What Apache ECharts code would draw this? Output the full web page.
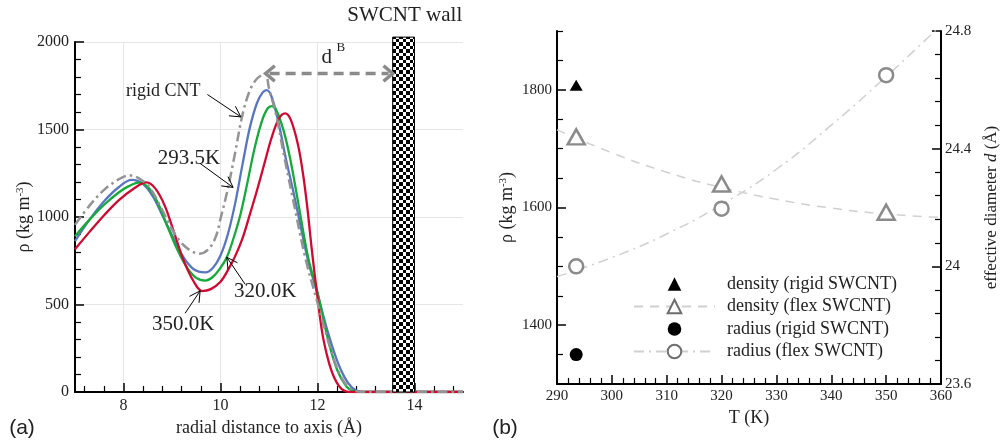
<!DOCTYPE html>
<html>
<head>
<meta charset="utf-8">
<script src="https://cdn.jsdelivr.net/npm/echarts@6/dist/echarts.min.js"></script>
<style>
  html, body { margin: 0; padding: 0; background: #fff; }
  #chart { width: 1001px; height: 442px; }
</style>
</head>
<body>
<div id="chart"></div>
<script>
// ---------- panel (a): density profile vs radial distance ----------
// [r (Å), rho (kg m^-3)]
const rigidCNT = [[7.0, 955], [7.3, 1065], [7.6, 1155], [7.9, 1215], [8.12, 1238], [8.35, 1215], [8.55, 1165],
  [8.8, 1040], [9.0, 930], [9.2, 850], [9.4, 805], [9.57, 790], [9.75, 815], [9.9, 885], [10.0, 990],
  [10.15, 1160], [10.3, 1365], [10.45, 1580], [10.6, 1720], [10.75, 1790], [10.92, 1818], [11.0, 1735],
  [11.15, 1580], [11.3, 1365], [11.5, 1094], [11.75, 765], [12.0, 510], [12.2, 310], [12.4, 140],
  [12.6, 38], [12.8, 4], [13.0, 0], [15.0, 0]];
const rho293 = [[7.0, 862], [7.3, 985], [7.6, 1090], [7.9, 1170], [8.17, 1212], [8.4, 1190], [8.6, 1120],
  [8.8, 1010], [9.0, 895], [9.2, 785], [9.4, 712], [9.55, 688], [9.69, 684], [9.85, 712], [10.0, 780],
  [10.15, 900], [10.3, 1075], [10.45, 1295], [10.6, 1505], [10.75, 1650], [10.87, 1712], [10.95, 1725],
  [11.05, 1690], [11.2, 1535], [11.35, 1330], [11.5, 1147], [11.65, 950], [11.81, 746], [12.0, 560],
  [12.2, 355], [12.4, 182], [12.55, 88], [12.7, 28], [12.85, 4], [13.0, 0], [15.0, 0]];
const rho320 = [[7.0, 890], [7.3, 985], [7.6, 1070], [7.9, 1140], [8.1, 1175], [8.31, 1197], [8.5, 1172],
  [8.7, 1085], [8.9, 950], [9.1, 820], [9.3, 715], [9.5, 652], [9.69, 637], [9.85, 660], [10.0, 710],
  [10.13, 770], [10.27, 880], [10.41, 1013], [10.55, 1190], [10.7, 1390], [10.85, 1545], [10.97, 1620],
  [11.06, 1634], [11.15, 1612], [11.3, 1495], [11.44, 1328], [11.6, 1085], [11.81, 765], [12.0, 570],
  [12.2, 320], [12.4, 130], [12.6, 30], [12.75, 4], [12.9, 0], [15.0, 0]];
const rho350 = [[7.0, 816], [7.3, 915], [7.6, 1010], [7.9, 1095], [8.2, 1160], [8.47, 1198], [8.65, 1165],
  [8.85, 1065], [9.05, 905], [9.25, 745], [9.45, 630], [9.62, 577], [9.8, 588], [10.0, 630], [10.15, 695],
  [10.3, 775], [10.45, 875], [10.6, 1010], [10.75, 1150], [10.9, 1300], [11.05, 1450], [11.2, 1560],
  [11.33, 1592], [11.45, 1555], [11.6, 1410], [11.71, 1230], [11.8, 1030], [11.88, 820], [12.0, 540],
  [12.1, 335], [12.2, 205], [12.3, 112], [12.4, 52], [12.5, 16], [12.6, 2], [12.7, 0], [15.0, 0]];
const wallRange = [13.55, 14.0];          // SWCNT wall, Å
const majorTicksR = [8, 10, 12, 14];
const minorTicksR = [7.2, 7.6, 8.4, 8.8, 9.2, 9.6, 10.4, 10.8, 11.2, 11.6, 12.4, 12.8, 13.2, 13.6, 14.4, 14.8];

// ---------- panel (b): density / diameter vs temperature ----------
const tempK = [293.5, 320, 350];
const densRigid = [1808];                 // at 293.5 K
const densFlex = [1720, 1640, 1592];
const diamRigid = [23.70];                // at 293.5 K
const diamFlex = [24.0, 24.196, 24.65];
const fitT = [290, 300, 310, 320, 330, 340, 350, 360];
const densFit = [1732, 1693, 1660, 1634, 1614, 1599, 1589, 1583];
const diamFit = [23.965, 24.03, 24.11, 24.21, 24.33, 24.48, 24.645, 24.82];
const majorTicksRho = [1400, 1600, 1800];
const minorTicksRho = [1350, 1450, 1500, 1550, 1650, 1700, 1750, 1850, 1900];

const SERIF = 'Liberation Serif';
const INK = '#222';
const pair = (xs, ys) => xs.map((x, i) => [x, ys[i]]);

// checkerboard tile for the wall
const tile = document.createElement('canvas');
tile.width = tile.height = 7;
const tg = tile.getContext('2d');
tg.fillStyle = '#fff'; tg.fillRect(0, 0, 7, 7);
tg.fillStyle = '#000'; tg.fillRect(0, 0, 4, 4); tg.fillRect(4, 4, 3, 3);

const axisLine = { onZero: false, lineStyle: { color: '#000', width: 2 } };
const tickMajor = { inside: true, length: 9, lineStyle: { color: '#000', width: 1.5 } };
const tickMinor = { inside: true, length: 6, lineStyle: { color: '#000', width: 1.2 } };
// tick labels forced to the serif face through a rich style, no thousands separator
const lbl = (size, margin) => ({
  margin: margin, fontFamily: SERIF, fontSize: size, color: INK,
  formatter: (v) => '{n|' + (Math.round(v * 100) / 100) + '}',
  rich: { n: { fontFamily: SERIF, fontSize: size, color: INK } }
});
const nameStyle = (size) => ({
  fontFamily: SERIF, fontSize: size, color: INK,
  rich: {
    sup: { fontFamily: SERIF, fontSize: 11, color: INK, verticalAlign: 'top', lineHeight: 18 },
    it: { fontFamily: SERIF, fontSize: size, color: INK, fontStyle: 'italic' }
  }
});

const chart = echarts.init(document.getElementById('chart'));

const option = {
  animation: false,
  backgroundColor: '#fff',
  textStyle: { fontFamily: SERIF },
  grid: [
    { left: 75, top: 42, width: 388, height: 350 },
    { left: 557, top: 31, width: 386, height: 353 }
  ],
  xAxis: [
    {
      gridIndex: 0, type: 'value', min: 7, max: 15, position: 'bottom',
      axisLine: axisLine,
      axisTick: Object.assign({ customValues: majorTicksR }, tickMajor),
      axisLabel: Object.assign({ customValues: majorTicksR }, lbl(16, 6)),
      splitLine: { show: true, lineStyle: { color: '#e6e6e6', width: 1 } },
      name: 'radial distance to axis (Å)', nameLocation: 'middle', nameGap: 27,
      nameTextStyle: nameStyle(18)
    },
    {
      gridIndex: 0, type: 'value', min: 7, max: 15, position: 'bottom',
      axisLine: { show: false, onZero: false },
      axisTick: Object.assign({ customValues: minorTicksR }, tickMinor),
      axisLabel: { show: false }, splitLine: { show: false }
    },
    {
      gridIndex: 1, type: 'value', min: 290, max: 360, interval: 10, position: 'bottom',
      axisLine: axisLine, axisTick: tickMajor,
      minorTick: { show: true, splitNumber: 5, length: 6, lineStyle: { color: '#000', width: 1.2 } },
      axisLabel: lbl(15, 5), splitLine: { show: false },
      name: 'T (K)', nameLocation: 'middle', nameGap: 22, nameTextStyle: nameStyle(18)
    }
  ],
  yAxis: [
    {
      gridIndex: 0, type: 'value', min: 0, max: 2000, interval: 500, position: 'left',
      axisLine: axisLine, axisTick: tickMajor,
      minorTick: { show: true, splitNumber: 5, length: 6, lineStyle: { color: '#000', width: 1.2 } },
      axisLabel: lbl(16, 6),
      splitLine: { show: true, lineStyle: { color: '#e6e6e6', width: 1 } },
      name: 'ρ (kg m{sup|-3})', nameLocation: 'middle', nameGap: 40, nameTextStyle: nameStyle(18)
    },
    {
      gridIndex: 1, type: 'value', min: 1300, max: 1900, position: 'left',
      axisLine: axisLine,
      axisTick: Object.assign({ customValues: majorTicksRho }, tickMajor),
      axisLabel: Object.assign({ customValues: majorTicksRho }, lbl(15, 5)),
      splitLine: { show: false },
      name: 'ρ (kg m{sup|-3})', nameLocation: 'middle', nameGap: 41, nameTextStyle: nameStyle(18)
    },
    {
      gridIndex: 1, type: 'value', min: 1300, max: 1900, position: 'left',
      axisLine: { show: false, onZero: false },
      axisTick: Object.assign({ customValues: minorTicksRho }, tickMinor),
      axisLabel: { show: false }, splitLine: { show: false }
    },
    {
      gridIndex: 1, type: 'value', min: 23.6, max: 24.8, interval: 0.4, position: 'right',
      axisLine: axisLine, axisTick: tickMajor,
      minorTick: { show: true, splitNumber: 5, length: 6, lineStyle: { color: '#000', width: 1.2 } },
      axisLabel: lbl(15, 4), splitLine: { show: false },
      name: 'effective diameter {it|d} (Å)', nameLocation: 'middle', nameGap: 42,
      nameTextStyle: nameStyle(17)
    }
  ],
  legend: {
    left: 628, top: 270, orient: 'vertical', selectedMode: false,
    itemWidth: 81, itemHeight: 17, itemGap: 4.5,
    textStyle: { fontFamily: SERIF, fontSize: 18, color: INK, lineHeight: 18, padding: [0, 0, 0, 7] },
    data: ['density (rigid SWCNT)', 'density (flex SWCNT)', 'radius (rigid SWCNT)', 'radius (flex SWCNT)']
  },
  series: [
    { name: '293.5K', type: 'line', xAxisIndex: 0, yAxisIndex: 0, data: rho293, smooth: 0.35,
      showSymbol: false, lineStyle: { color: '#5875c1', width: 2.3 } },
    { name: '320.0K', type: 'line', xAxisIndex: 0, yAxisIndex: 0, data: rho320, smooth: 0.35,
      showSymbol: false, lineStyle: { color: '#16aa3a', width: 2.3 } },
    { name: '350.0K', type: 'line', xAxisIndex: 0, yAxisIndex: 0, data: rho350, smooth: 0.35,
      showSymbol: false, lineStyle: { color: '#cf0a30', width: 2.3 } },
    { name: 'rigid CNT', type: 'line', xAxisIndex: 0, yAxisIndex: 0, data: rigidCNT, smooth: 0.35,
      showSymbol: false, lineStyle: { color: '#939393', width: 2.5, type: [10, 4, 2.5, 4] } },

    // panel (b) fits first so the legend takes their icons
    { name: 'density (flex SWCNT)', type: 'line', xAxisIndex: 2, yAxisIndex: 1, data: pair(fitT, densFit),
      smooth: true, showSymbol: false, symbol: 'triangle', z: 2,
      lineStyle: { color: '#d0d0d0', width: 1.5, type: [9, 7] },
      itemStyle: { color: '#fff', borderColor: '#6e6e6e', borderWidth: 2.5 } },
    { name: 'radius (flex SWCNT)', type: 'line', xAxisIndex: 2, yAxisIndex: 3, data: pair(fitT, diamFit),
      smooth: true, showSymbol: false, symbol: 'circle', z: 2,
      lineStyle: { color: '#d0d0d0', width: 1.5, type: [10, 5, 2, 5] },
      itemStyle: { color: '#fff', borderColor: '#6e6e6e', borderWidth: 2.5 } },
    { name: 'density (rigid SWCNT)', type: 'line', xAxisIndex: 2, yAxisIndex: 1,
      data: pair([tempK[0]], densRigid), symbol: 'triangle', symbolSize: [13, 11], z: 3,
      lineStyle: { width: 0, opacity: 0 }, itemStyle: { color: '#000' } },
    { name: 'radius (rigid SWCNT)', type: 'line', xAxisIndex: 2, yAxisIndex: 3,
      data: pair([tempK[0]], diamRigid), symbol: 'circle', symbolSize: 13, z: 3,
      lineStyle: { width: 0, opacity: 0 }, itemStyle: { color: '#000' } },
    { name: 'density flex points', type: 'scatter', xAxisIndex: 2, yAxisIndex: 1,
      data: pair(tempK, densFlex), symbol: 'triangle', symbolSize: [17, 15], z: 3,
      itemStyle: { color: '#fff', borderColor: '#6e6e6e', borderWidth: 2.5 } },
    { name: 'radius flex points', type: 'scatter', xAxisIndex: 2, yAxisIndex: 3,
      data: pair(tempK, diamFlex), symbol: 'circle', symbolSize: 14, z: 3,
      itemStyle: { color: '#fff', borderColor: '#6e6e6e', borderWidth: 2.5 } }
  ]
};
chart.setOption(option);

// ---------- annotations of panel (a), anchored in data coordinates ----------
const P = (p) => chart.convertToPixel({ xAxisIndex: 0, yAxisIndex: 0 }, p);
const labelsA = [
  { text: 'rigid CNT', at: [8.82, 1716], size: 18 },
  { text: '293.5K', at: [9.35, 1336], size: 21 },
  { text: '320.0K', at: [10.92, 574], size: 21 },
  { text: '350.0K', at: [9.23, 384], size: 21 },
  { text: 'SWCNT wall', at: [13.80, 2152], size: 21 },
  { text: 'd', at: [12.19, 1910], size: 21 },
  { text: 'B', at: [12.48, 1967], size: 13 }
];
const arrowsA = [
  { from: [9.73, 1700], to: [10.42, 1572] },
  { from: [9.58, 1306], to: [10.26, 1169] },
  { from: [10.51, 615], to: [10.13, 770] },
  { from: [9.27, 450], to: [9.58, 578] }
];
const gapArrow = { from: [10.93, 1820], to: [13.55, 1820] };

function head(tip, from, len, ang) {
  const a = Math.atan2(from[1] - tip[1], from[0] - tip[0]);
  return [
    [tip[0] + len * Math.cos(a + ang), tip[1] + len * Math.sin(a + ang)],
    tip,
    [tip[0] + len * Math.cos(a - ang), tip[1] + len * Math.sin(a - ang)]
  ];
}

const g = [];
// the SWCNT wall, from the axis up to a little above the 2000 line
{
  const w0 = P([wallRange[0], 0]), w1 = P([wallRange[1], 2028]);
  g.push({ type: 'rect', silent: true, z: 5,
    shape: { x: w0[0], y: w1[1], width: w1[0] - w0[0], height: w0[1] - w1[1] },
    style: { fill: { image: tile, repeat: 'repeat' }, stroke: '#000', lineWidth: 1 } });
}
labelsA.forEach(l => {
  const p = P(l.at);
  g.push({ type: 'text', x: p[0], y: p[1], silent: true, z: 50,
    style: { text: l.text, font: l.size + 'px "Liberation Serif"', fill: INK,
      align: 'center', verticalAlign: 'middle', textAlign: 'center', textVerticalAlign: 'middle' } });
});
arrowsA.forEach(a => {
  const p0 = P(a.from), p1 = P(a.to);
  g.push({ type: 'line', silent: true, z: 50, shape: { x1: p0[0], y1: p0[1], x2: p1[0], y2: p1[1] },
    style: { stroke: '#000', lineWidth: 1 } });
  g.push({ type: 'polyline', silent: true, z: 50, shape: { points: head(p1, p0, 12, 0.5) },
    style: { stroke: '#000', lineWidth: 1, fill: null } });
});
{
  const p0 = P(gapArrow.from), p1 = P(gapArrow.to);
  g.push({ type: 'line', silent: true, z: 50, shape: { x1: p0[0] + 4, y1: p0[1], x2: p1[0] - 4, y2: p1[1] },
    style: { stroke: '#8a8a8a', lineWidth: 3.5, lineDash: [10, 6] } });
  g.push({ type: 'polyline', silent: true, z: 50, shape: { points: head(p0, p1, 12, 0.7) },
    style: { stroke: '#8a8a8a', lineWidth: 3.5, fill: null } });
  g.push({ type: 'polyline', silent: true, z: 50, shape: { points: head(p1, p0, 12, 0.7) },
    style: { stroke: '#8a8a8a', lineWidth: 3.5, fill: null } });
}
// panel tags
[['(a)', 22, 428], ['(b)', 505, 428]].forEach(t => {
  g.push({ type: 'text', x: t[1], y: t[2], silent: true,
    style: { text: t[0], font: '21px "Liberation Sans", Arial, sans-serif', fill: INK,
      align: 'center', verticalAlign: 'middle', textAlign: 'center', textVerticalAlign: 'middle' } });
});
chart.setOption({ graphic: g });
</script>
</body>
</html>
